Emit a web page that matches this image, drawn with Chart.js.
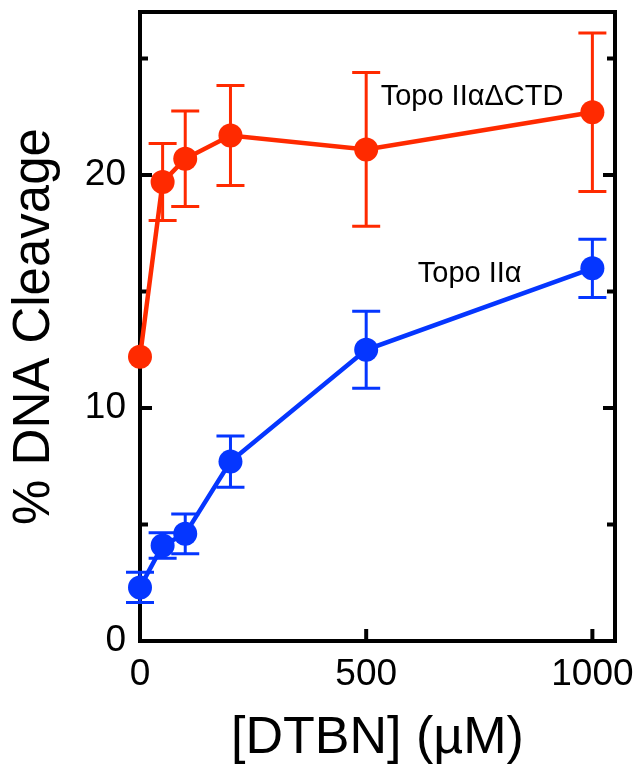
<!DOCTYPE html>
<html>
<head>
<meta charset="utf-8">
<script src="https://cdn.jsdelivr.net/npm/chart.js@4/dist/chart.umd.min.js"></script>
<style>
  html, body { margin: 0; padding: 0; background: #fff; }
  #wrap { width: 639px; height: 770px; }
</style>
</head>
<body>
<div id="wrap"><canvas id="mainChart" width="639" height="770"></canvas></div>
<script>
// DTBN concentration (uM)
var conc = [0, 50, 100, 200, 500, 1000];

// % DNA cleavage, mean and SD
var ctdMean = [12.2, 19.7, 20.7, 21.7, 21.1, 22.7];
var ctdSd   = [0, 1.65, 2.05, 2.15, 3.3, 3.4];
var wtMean  = [2.3, 4.1, 4.6, 7.7, 12.5, 16.0];
var wtSd    = [0.65, 0.55, 0.85, 1.1, 1.65, 1.25];

var xTicks = [0, 500, 1000];
var yTicks = [0, 5, 10, 15, 20, 25];

var RED = "#ff2a00";
var BLUE = "#0536ff";
var FONT = "'Liberation Sans', Arial, Helvetica, sans-serif";

// in-plot labels, placed in data units
var seriesLabels = [
  { text: "Topo II\u03b1\u0394CTD", x: 532, y: 23.0 },
  { text: "Topo II\u03b1", x: 614, y: 15.4 }
];

function toPoints(xs, ys){
  var out = [];
  for (var i = 0; i < xs.length; i++) out.push({ x: xs[i], y: ys[i] });
  return out;
}

// keep the tick labels from pushing the plot area in
function noOverflow(scale){
  scale.paddingTop = 0;
  scale.paddingBottom = 0;
  scale.paddingLeft = 0;
  scale.paddingRight = 0;
}

// frame with inward ticks, drawn under the markers
var framePlugin = {
  id: "frame",
  beforeDatasetsDraw: function(chart){
    var ctx = chart.ctx, a = chart.chartArea;
    var xs = chart.scales.x, ys = chart.scales.y;
    ctx.save();
    ctx.strokeStyle = "#000";
    ctx.lineWidth = 4;
    ctx.lineCap = "butt";
    ctx.strokeRect(a.left, a.top, a.right - a.left, a.bottom - a.top);
    ctx.beginPath();
    yTicks.forEach(function(v){
      var py = ys.getPixelForValue(v);
      var len = (v % 10 === 0) ? 12 : 8;
      if (v === 0) return;
      ctx.moveTo(a.left, py); ctx.lineTo(a.left + len, py);
      ctx.moveTo(a.right, py); ctx.lineTo(a.right - len, py);
    });
    xTicks.forEach(function(v){
      if (v === 0) return;
      var px = xs.getPixelForValue(v);
      ctx.moveTo(px, a.bottom); ctx.lineTo(px, a.bottom - 12);
    });
    ctx.stroke();
    ctx.restore();
  }
};

// SD error bars
var errorBarPlugin = {
  id: "errorBars",
  beforeDatasetsDraw: function(chart){
    var ctx = chart.ctx;
    var xs = chart.scales.x, ys = chart.scales.y;
    ctx.save();
    ctx.lineWidth = 3;
    chart.data.datasets.forEach(function(ds){
      ctx.strokeStyle = ds.borderColor;
      ds.data.forEach(function(p, i){
        var sd = ds.errors[i];
        if (!sd) return;
        var px = xs.getPixelForValue(p.x);
        var top = ys.getPixelForValue(p.y + sd);
        var bot = ys.getPixelForValue(p.y - sd);
        ctx.beginPath();
        ctx.moveTo(px, top); ctx.lineTo(px, bot);
        ctx.moveTo(px - 14, top); ctx.lineTo(px + 14, top);
        ctx.moveTo(px - 14, bot); ctx.lineTo(px + 14, bot);
        ctx.stroke();
      });
    });
    ctx.restore();
  }
};

var labelPlugin = {
  id: "seriesLabels",
  afterDatasetsDraw: function(chart){
    var ctx = chart.ctx;
    var xs = chart.scales.x, ys = chart.scales.y;
    ctx.save();
    ctx.fillStyle = "#000";
    ctx.font = "29px " + FONT;
    ctx.textAlign = "left";
    ctx.textBaseline = "alphabetic";
    seriesLabels.forEach(function(l){
      ctx.fillText(l.text, xs.getPixelForValue(l.x), ys.getPixelForValue(l.y));
    });
    ctx.restore();
  }
};

var data = {
  datasets: [{
    label: "Topo II\u03b1\u0394CTD",
    data: toPoints(conc, ctdMean),
    errors: ctdSd,
    borderColor: RED,
    backgroundColor: RED,
    borderWidth: 4.5,
    pointRadius: 12,
    pointBorderWidth: 0,
    pointBackgroundColor: RED,
    showLine: true,
    clip: false
  }, {
    label: "Topo II\u03b1",
    data: toPoints(conc, wtMean),
    errors: wtSd,
    borderColor: BLUE,
    backgroundColor: BLUE,
    borderWidth: 4.5,
    pointRadius: 12,
    pointBorderWidth: 0,
    pointBackgroundColor: BLUE,
    showLine: true,
    clip: false
  }]
};

var options = {
  responsive: false,
  animation: false,
  layout: { padding: { top: 10, right: 24, left: 0, bottom: 0 } },
  plugins: {
    legend: { display: false },
    tooltip: { enabled: false }
  },
  scales: {
    x: {
      type: "linear",
      min: 0,
      max: 1050,
      afterBuildTicks: function(scale){
        scale.ticks = xTicks.map(function(v){ return { value: v }; });
      },
      afterFit: function(scale){
        scale.height = 129;
        noOverflow(scale);
      },
      grid: { display: false, drawTicks: false },
      border: { display: false },
      ticks: {
        color: "#000",
        padding: 12,
        maxRotation: 0,
        font: { family: FONT, size: 37 },
        callback: function(v){ return String(v); }
      },
      title: {
        display: true,
        text: "[DTBN] (\u00b5M)",
        color: "#000",
        padding: { top: 0, bottom: 0 },
        font: { family: FONT, size: 52, lineHeight: 1.2 }
      }
    },
    y: {
      type: "linear",
      min: 0,
      max: 27,
      afterBuildTicks: function(scale){
        scale.ticks = yTicks.map(function(v){ return { value: v }; });
      },
      afterFit: function(scale){
        scale.width = 140;
        noOverflow(scale);
      },
      grid: { display: false, drawTicks: false },
      border: { display: false },
      ticks: {
        color: "#000",
        padding: 14,
        font: { family: FONT, size: 37 },
        callback: function(v){ return (v % 10 === 0) ? String(v) : ""; }
      },
      title: {
        display: true,
        text: "% DNA Cleavage",
        color: "#000",
        padding: { top: 4, bottom: 0 },
        font: { family: FONT, size: 51, lineHeight: 1.2 }
      }
    }
  }
};

var config = {
  type: "scatter",
  data: data,
  options: options,
  plugins: [framePlugin, errorBarPlugin, labelPlugin]
};

var ctx = document.getElementById("mainChart");
new Chart(ctx, config);
</script>
</body>
</html>
